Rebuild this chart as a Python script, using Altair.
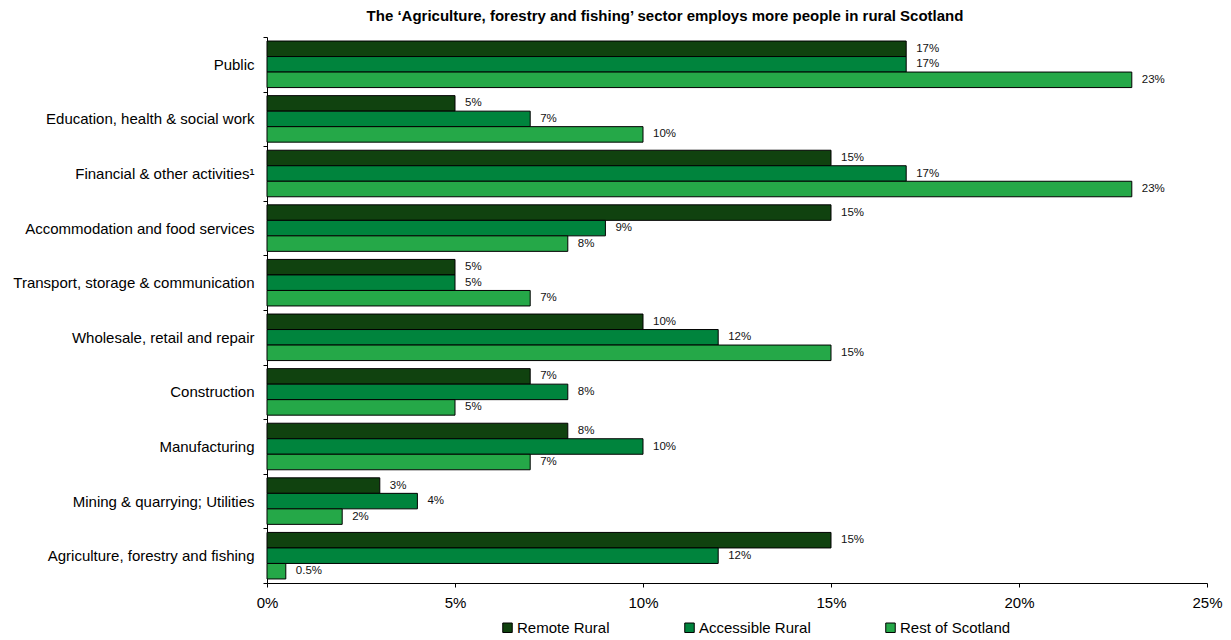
import altair as alt
import pandas as pd

categories = [
    "Public",
    "Education, health & social work",
    "Financial & other activities\u00b9",
    "Accommodation and food services",
    "Transport, storage & communication",
    "Wholesale, retail and repair",
    "Construction",
    "Manufacturing",
    "Mining & quarrying; Utilities",
    "Agriculture, forestry and fishing",
]
series = ["Remote Rural", "Accessible Rural", "Rest of Scotland"]
remote_rural = [17, 5, 15, 15, 5, 10, 7, 8, 3, 15]
accessible_rural = [17, 7, 17, 9, 5, 12, 8, 10, 4, 12]
rest_of_scotland = [23, 10, 23, 8, 7, 15, 5, 7, 2, 0.5]
colors = ["#10420F", "#00843D", "#25A848"]
x_ticks = [0, 5, 10, 15, 20, 25]

rows = []
for s, vals in zip(series, [remote_rural, accessible_rural, rest_of_scotland]):
    for c, v in zip(categories, vals):
        rows.append({"sector": c, "area": s, "value": v, "label": f"{v:g}%"})
df = pd.DataFrame(rows)

FONT = "Liberation Sans"

y_enc = alt.Y("sector:N", sort=categories, title=None,
              scale=alt.Scale(paddingInner=0, paddingOuter=0),
              axis=alt.Axis(tickBand="extent", tickSize=4, labelPadding=9,
                            labelFontSize=15, labelFont=FONT, labelColor="#000",
                            domainColor="#000", tickColor="#000", labelLimit=400))
yoff_enc = alt.YOffset("area:N", sort=series,
                       scale=alt.Scale(paddingOuter=0.26, paddingInner=0))
x_enc = alt.X("value:Q", title=None,
              scale=alt.Scale(domain=[0, 25], nice=False),
              axis=alt.Axis(values=x_ticks, labelExpr="datum.value + '%'", grid=False,
                            labelFlush=False,
                            tickSize=4, labelPadding=8, labelFontSize=15, labelFont=FONT,
                            labelColor="#000", domainColor="#000", tickColor="#000"))

bars = alt.Chart(df).mark_bar(stroke="black", strokeWidth=1).encode(
    y=y_enc,
    yOffset=yoff_enc,
    x=x_enc,
    color=alt.Color("area:N", sort=series,
                    scale=alt.Scale(domain=series, range=colors),
                    legend=alt.Legend(title=None, orient="none", direction="horizontal",
                                      legendX=233, legendY=583, symbolType="square",
                                      symbolSize=90, symbolStrokeColor="black",
                                      symbolStrokeWidth=1, labelFontSize=15,
                                      labelFont=FONT, labelColor="#000",
                                      columnPadding=72, labelOffset=2, padding=0)),
)

texts = alt.Chart(df).mark_text(align="left", baseline="middle", dx=10,
                                fontSize=11.5, font=FONT, color="#111").encode(
    y=alt.Y("sector:N", sort=categories),
    yOffset=alt.YOffset("area:N", sort=series),
    x=alt.X("value:Q"),
    text="label:N",
)

chart = alt.layer(bars, texts).properties(
    width=940,
    height=546,
    title=alt.TitleParams(
        "The \u2018Agriculture, forestry and fishing\u2019 sector employs more people in rural Scotland",
        fontSize=15, fontWeight="bold", font=FONT, color="#000",
        anchor="middle", dx=-72, offset=6),
    autosize=alt.AutoSizeParams(type="none"),
    padding={"left": 259, "top": 29, "right": 16, "bottom": 52},
).configure_view(stroke=None)

chart.save("out.html", embed_options={"renderer": "svg", "actions": False})
